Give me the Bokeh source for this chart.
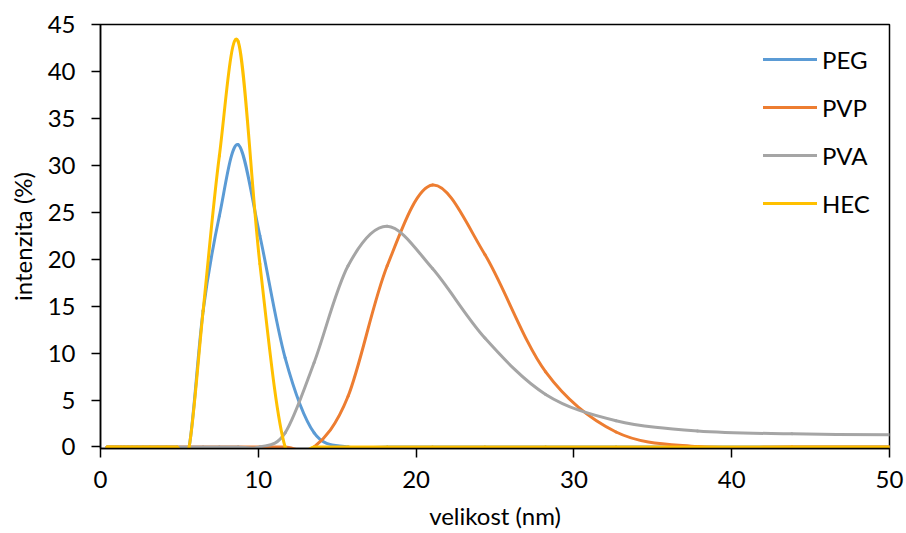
import numpy as np
from bokeh.plotting import figure
from bokeh.models import Range1d, FixedTicker, Legend, LegendItem, ColumnDataSource
from bokeh.embed import file_html
from bokeh.resources import INLINE

# DLS size bins (nm)
size_nm = [0.4, 0.4632, 0.5365, 0.6213, 0.7195, 0.8332, 0.9649, 1.117, 1.294, 1.499,
           1.736, 2.01, 2.328, 2.696, 3.122, 3.615, 4.187, 4.849, 5.615, 6.503,
           7.531, 8.721, 10.1, 11.7, 13.54, 15.69, 18.17, 21.04, 24.36, 28.21,
           32.67, 37.84, 43.82, 50.75]

zeros19 = [0.0] * 19  # bins 0.4 ... 5.615

peg = zeros19 + [14.5, 24.6, 32.2, 22.5, 9.5, 1.5, 0.0, 0.0, 0.0, 0.0, 0.0, 0.0, 0.0, 0.0, 0.0]
pvp = zeros19 + [0.0, 0.0, 0.0, 0.0, 0.0, 0.0, 5.4, 19.3, 27.9, 20.5, 8.0, 1.6, 0.05, 0.0, 0.0]
pva = zeros19 + [0.0, 0.0, 0.0, 0.0, 1.5, 9.0, 19.3, 23.5, 19.0, 11.6, 5.6, 2.8, 1.7, 1.4, 1.3]
hec = zeros19 + [14.5, 31.0, 43.2, 19.5, 0.0, 0.0, 0.0, 0.0, 0.0, 0.0, 0.0, 0.0, 0.0, 0.0, 0.0]

series_names = ["PEG", "PVP", "PVA", "HEC"]
series_values = [peg, pvp, pva, hec]
series_colors = ["#5B9BD5", "#ED7D31", "#A5A5A5", "#FFC000"]

x_ticks = [0, 10, 20, 30, 40, 50]
y_ticks = [0, 5, 10, 15, 20, 25, 30, 35, 40, 45]
x_title = "velikost (nm)"
y_title = "intenzita (%)"

FONT = "Lato"
FS = "24px"


def smooth_segments(xs, ys):
    """Excel-like smoothed line: cubic Bezier segments through the points."""
    x = np.asarray(xs, dtype=float)
    y = np.asarray(ys, dtype=float)
    n = len(x)
    xp = np.concatenate([[x[0]], x, [x[-1]]])
    yp = np.concatenate([[y[0]], y, [y[-1]]])
    d = dict(x0=[], y0=[], x1=[], y1=[], cx0=[], cy0=[], cx1=[], cy1=[])
    for i in range(n - 1):
        j = i + 1
        d["x0"].append(x[i]); d["y0"].append(y[i])
        d["x1"].append(x[i + 1]); d["y1"].append(y[i + 1])
        d["cx0"].append(x[i] + (xp[j + 1] - xp[j - 1]) / 6.0)
        d["cy0"].append(y[i] + (yp[j + 1] - yp[j - 1]) / 6.0)
        d["cx1"].append(x[i + 1] - (xp[j + 2] - xp[j]) / 6.0)
        d["cy1"].append(y[i + 1] - (yp[j + 2] - yp[j]) / 6.0)
    return ColumnDataSource(d)


p = figure(width=906, height=533,
           x_range=Range1d(0, 50), y_range=Range1d(-0.16, 45),
           output_backend="svg", toolbar_location=None,
           min_border_left=100, min_border_right=17,
           min_border_top=24, min_border_bottom=85)

p.background_fill_color = "white"
p.border_fill_color = "white"
p.outline_line_color = "black"
p.outline_line_width = 1.5
p.xgrid.visible = False
p.ygrid.visible = False

items = []
for name, vals, col in zip(series_names, series_values, series_colors):
    src = smooth_segments(size_nm, vals)
    r = p.bezier(x0="x0", y0="y0", x1="x1", y1="y1", cx0="cx0", cy0="cy0",
                 cx1="cx1", cy1="cy1", source=src, line_color=col,
                 line_width=3, line_cap="round")
    items.append(LegendItem(label=name, renderers=[r]))

for ax in (p.xaxis[0], p.yaxis[0]):
    ax.axis_line_color = "black"
    ax.axis_line_width = 1.5
    ax.major_tick_line_color = "black"
    ax.major_tick_line_width = 1.5
    ax.major_tick_out = 9
    ax.major_tick_in = 0
    ax.minor_tick_line_color = None
    ax.major_label_text_font = FONT
    ax.major_label_text_font_size = FS
    ax.major_label_text_color = "black"
    ax.axis_label_text_font = FONT
    ax.axis_label_text_font_size = FS
    ax.axis_label_text_font_style = "normal"
    ax.axis_label_text_color = "black"

p.xaxis.ticker = FixedTicker(ticks=x_ticks)
p.yaxis.ticker = FixedTicker(ticks=y_ticks)
p.xaxis.axis_label = x_title
p.yaxis.axis_label = y_title
p.xaxis.major_label_standoff = 13
p.xaxis.axis_label_standoff = 10
p.yaxis.major_label_standoff = 16
p.yaxis.axis_label_standoff = 8

legend = Legend(items=items, location=(663, 230))
legend.label_text_font = FONT
legend.label_text_font_size = FS
legend.label_text_color = "black"
legend.glyph_width = 54
legend.glyph_height = 30
legend.label_height = 30
legend.label_standoff = 5
legend.spacing = 18
legend.padding = 0
legend.margin = 0
legend.border_line_alpha = 0
legend.background_fill_alpha = 0
p.add_layout(legend, "center")

open("out.html", "w").write(file_html(p, INLINE))
